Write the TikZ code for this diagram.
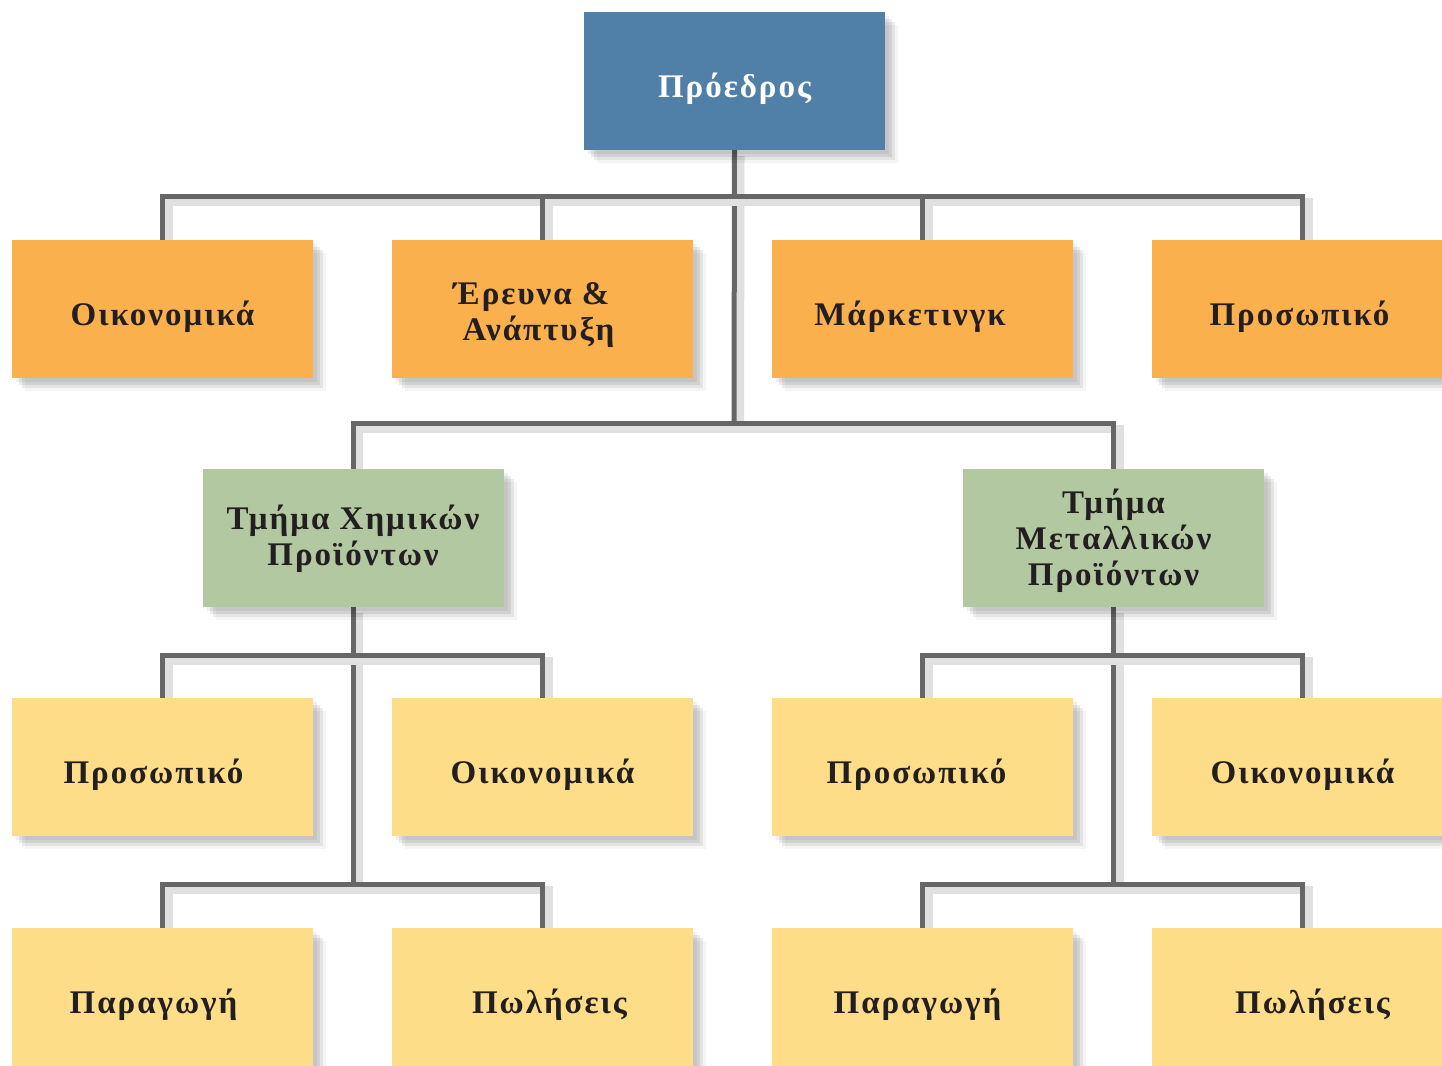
\documentclass[tikz,border=0pt]{standalone}
\usepackage{fontspec}
\setmainfont{Liberation Serif}[LetterSpace=6]
\usetikzlibrary{shadows,calc}
\definecolor{presblue}{RGB}{80,128,168}
\definecolor{deptorange}{RGB}{251,176,78}
\definecolor{divgreen}{RGB}{178,200,160}
\definecolor{unityellow}{RGB}{253,221,136}
\definecolor{linegray}{RGB}{102,102,102}
\definecolor{txtdark}{RGB}{35,31,32}
\tikzset{
  orgbox/.style={rectangle, minimum width=301pt, minimum height=138pt, inner sep=0pt,
    align=center, text=txtdark, font=\fontsize{33}{36}\selectfont\bfseries,
    drop shadow={shadow xshift=4pt, shadow yshift=-4pt, fill=black, opacity=.06},
    drop shadow={shadow xshift=7pt, shadow yshift=-7pt, fill=black, opacity=.08},
    drop shadow={shadow xshift=10pt, shadow yshift=-10pt, fill=black, opacity=.07},
    drop shadow={shadow xshift=13pt, shadow yshift=-13pt, fill=black, opacity=.04}},
  oneline/.style={text height=33pt, text depth=0pt},
  presbox/.style={orgbox, oneline, fill=presblue, text=white},
  deptbox/.style={orgbox, fill=deptorange},
  divbox/.style={orgbox, fill=divgreen},
  unitbox/.style={orgbox, oneline, fill=unityellow},
  link/.style={draw=linegray, line width=5pt,
    preaction={draw=black!12, line width=8pt, transform canvas={shift={(6pt,-6pt)}}}},
}
\begin{document}
\begin{tikzpicture}[x=1pt,y=-1pt]
\useasboundingbox (0,0) rectangle (1442,1065);
\clip (0,0) rectangle (1442,1065);

% junction coordinates
\coordinate (jA) at (734,196);
\coordinate (jB) at (734,423);
\coordinate (jC1) at (353,655);
\coordinate (jC2) at (353,884);
\coordinate (jM1) at (1113.5,655);
\coordinate (jM2) at (1113.5,884);

% connectors
\path[link] (734.5,150) -- (jB);
\path[link] (162.5,240) |- (jA) -| (1302.5,240);
\path[link] (542.5,240) -- (542.5,196);
\path[link] (922.5,240) -- (922.5,196);
\path[link] (353,469) |- (jB) -| (1113.5,469);
\path[link] (353,607) -- (jC2);
\path[link] (162.5,698) |- (jC1) -| (542.5,698);
\path[link] (162.5,928) |- (jC2) -| (542.5,928);
\path[link] (1113.5,607) -- (jM2);
\path[link] (922.5,698) |- (jM1) -| (1302.5,698);
\path[link] (922.5,928) |- (jM2) -| (1302.5,928);

% boxes
\node[presbox] (pres) at (734.5,81) {Πρόεδρος};
\node[deptbox, oneline] (fin) at (162.5,308.5) {Οικονομικά};
\node[deptbox, text height=70pt, text depth=6pt] (rd) at (542.5,308.5) {\hspace*{-22pt}Έρευνα \&\\\hspace*{-8pt}Ανάπτυξη};
\node[deptbox, oneline] (mkt) at (922.5,308.5) {\hspace*{-25pt}Μάρκετινγκ};
\node[deptbox, oneline] (hr) at (1302.5,308.5) {\hspace*{-6pt}Προσωπικό};
\node[divbox, text height=61pt, text depth=6pt] (chem) at (353,538) {Τμήμα Χημικών\\Προϊόντων};
\node[divbox, text height=101pt, text depth=6pt] (metal) at (1113.5,538) {Τμήμα\\Μεταλλικών\\Προϊόντων};
\node[unitbox] (p1) at (162.5,767) {\hspace*{-18pt}Προσωπικό};
\node[unitbox] (o1) at (542.5,767) {Οικονομικά};
\node[unitbox] (g1) at (162.5,997) {\hspace*{-18pt}Παραγωγή};
\node[unitbox] (s1) at (542.5,997) {\hspace*{14pt}Πωλήσεις};
\node[unitbox] (p2) at (922.5,767) {\hspace*{-12pt}Προσωπικό};
\node[unitbox] (o2) at (1302.5,767) {Οικονομικά};
\node[unitbox] (g2) at (922.5,997) {\hspace*{-10pt}Παραγωγή};
\node[unitbox] (s2) at (1302.5,997) {\hspace*{20pt}Πωλήσεις};
\end{tikzpicture}
\end{document}
